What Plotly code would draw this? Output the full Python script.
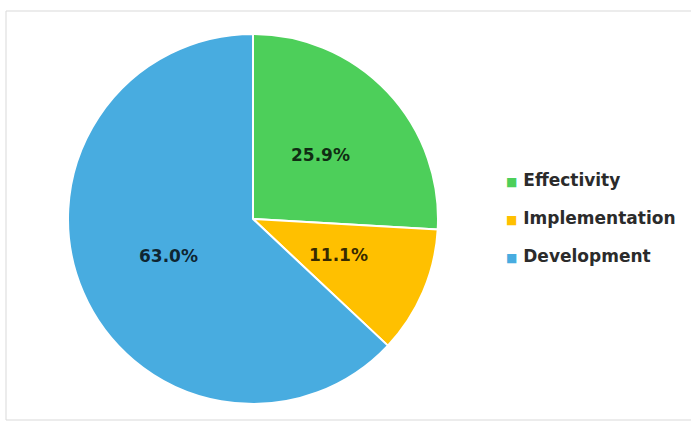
import math
import plotly.graph_objects as go

categories = ["Effectivity", "Implementation", "Development"]
values = [25.9, 11.1, 63.0]
colors = ["#4DCF5A", "#FFC000", "#48ACE0"]

W, H = 691, 422
# pie geometry (pixels in the 691x422 canvas)
CX, CY, R = 253, 219, 185

fig = go.Figure()
fig.add_trace(go.Pie(
    labels=categories,
    values=values,
    sort=False,
    direction="clockwise",
    rotation=0,
    marker=dict(colors=colors, line=dict(color="white", width=2)),
    textinfo="none",
    domain=dict(x=[(CX - R) / W, (CX + R) / W], y=[1 - (CY + R) / H, 1 - (CY - R) / H]),
    showlegend=False,
    hoverinfo="label+percent",
))

# data labels placed at mid-angle, half radius (Excel "center" style)
total = sum(values)
annotations = []
cum = 0.0
for v in values:
    frac = v / total
    mid = (cum + frac / 2) * 2 * math.pi
    cum += frac
    px = CX + 0.5 * R * math.sin(mid)
    py = CY - 0.5 * R * math.cos(mid)
    annotations.append(dict(
        x=px / W, y=1 - py / H, xref="paper", yref="paper",
        text=f"{frac * 100:.1f}%", showarrow=False,
        font=dict(family="DejaVu Sans", size=17, color="rgba(0,0,0,0.8)", weight="bold"),
        xanchor="center", yanchor="middle",
    ))

for c, col in zip(categories, colors):
    fig.add_trace(go.Scatter(
        x=[None], y=[None], mode="markers",
        name=f"<span style='color:{col};font-size:12px'>■</span> {c}",
        legendgroup=c,
        marker=dict(symbol="square", size=1, color="rgba(0,0,0,0)"),
        showlegend=True, hoverinfo="skip",
    ))

fig.update_layout(
    width=W, height=H,
    margin=dict(l=0, r=0, t=0, b=0),
    paper_bgcolor="white", plot_bgcolor="white",
    xaxis=dict(visible=False), yaxis=dict(visible=False),
    showlegend=True,
    legend=dict(
        x=466 / W, y=1 - 218 / H, xanchor="left", yanchor="middle",
        traceorder="grouped", tracegroupgap=13,
        font=dict(family="DejaVu Sans", size=17, color="#2b2b2b", weight="bold"),
        bgcolor="rgba(0,0,0,0)",
    ),
    annotations=annotations,
    shapes=[dict(type="rect", xref="paper", yref="paper",
                 x0=6 / W, x1=1.02, y0=1 - 420 / H, y1=1 - 11 / H,
                 line=dict(color="#D9D9D9", width=1), layer="below")],
)

fig.write_html("out.html", config={"displayModeBar": False},
               post_script="document.body.style.margin='0';")
